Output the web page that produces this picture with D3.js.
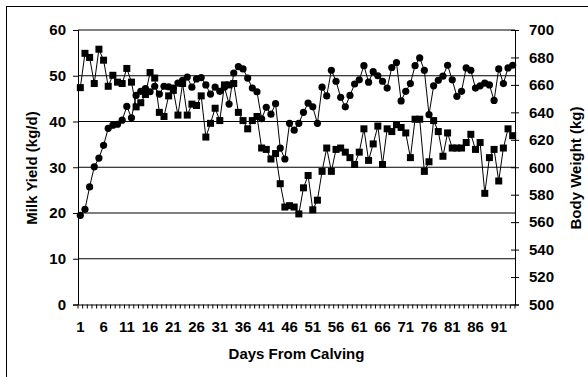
<!DOCTYPE html>
<html>
<head>
<meta charset="utf-8">
<script src="https://cdn.jsdelivr.net/npm/d3@7"></script>
<style>
  body { margin: 0; background: #fff; }
  text { font-family: "Liberation Sans", Arial, sans-serif; font-weight: bold; fill: #000; }
</style>
</head>
<body>
<div id="chart"></div>
<script>
// days from calving
const days = d3.range(1, 95);

// milk yield, kg/d (circles, left axis)
const milkYield = [19.5, 20.8, 25.7, 30.1, 32.0, 34.8, 38.5, 39.2, 39.4, 40.3,
  43.3, 40.8, 45.7, 46.6, 47.2, 46.5, 47.7, 46.0, 47.7, 47.6,
  47.3, 48.4, 49.0, 49.7, 47.5, 49.3, 49.6, 48.0, 46.0, 47.5,
  46.6, 47.5, 43.8, 50.6, 52.0, 51.5, 49.5, 47.3, 46.5, 40.6,
  43.1, 41.6, 43.9, 34.2, 31.8, 39.6, 38.1, 39.6, 42.0, 44.0,
  43.2, 39.6, 47.5, 45.6, 51.2, 48.8, 45.3, 43.2, 45.7, 48.2,
  49.1, 52.2, 48.6, 50.9, 50.0, 48.8, 47.3, 51.8, 52.9, 44.5,
  46.6, 48.3, 52.2, 53.9, 51.2, 41.5, 47.8, 49.0, 49.9, 52.3,
  49.1, 45.5, 46.6, 51.7, 51.2, 47.3, 47.8, 48.4, 48.0, 44.6,
  51.5, 48.3, 51.7, 52.3];

// body weight, kg (squares, right axis)
const bodyWeight = [658, 683, 680, 661, 686, 678, 659, 667, 662, 661,
  672, 662, 644, 647, 653, 669, 665, 640, 637, 652,
  656, 638, 661, 638, 646, 645, 652, 622, 632, 643,
  634, 660, 660, 661, 640, 634, 628, 634, 637, 614,
  613, 606, 610, 588, 571, 572, 571, 566, 585, 594,
  569, 576, 597, 614, 597, 613, 614, 611, 607, 602,
  611, 628, 605, 617, 630, 602, 628, 626, 631, 629,
  625, 607, 635, 635, 597, 604, 634, 626, 608, 625,
  614, 614, 614, 618, 624, 613, 618, 581, 607, 613,
  590, 614, 628, 623];

const leftTicks = [0, 10, 20, 30, 40, 50, 60];
const rightTicks = [500, 520, 540, 560, 580, 600, 620, 640, 660, 680, 700];
const dayLabels = d3.range(1, 92, 5);

function chart(container) {
  const width = 588;
  const height = 377;
  const margin = { top: 30, bottom: 72.5, left: 78, right: 73 };
  const innerWidth = width - margin.left - margin.right;
  const innerHeight = height - margin.top - margin.bottom;
  const fontSize = 15;

  const svg = container.append("svg")
    .attr("width", width)
    .attr("height", height);

  // outer frame (runs off the right and bottom edge)
  svg.append("rect")
    .attr("x", 6.5).attr("y", 6.5)
    .attr("width", 700).attr("height", 500)
    .attr("fill", "none").attr("stroke", "#000");

  const x = d3.scaleBand().domain(days).range([0, innerWidth]);
  const yL = d3.scaleLinear().domain([0, 60]).range([innerHeight, 0]);
  const yR = d3.scaleLinear().domain([500, 700]).range([innerHeight, 0]);
  const cx = (d) => x(d) + x.bandwidth() / 2;

  const g = svg.append("g")
    .attr("transform", `translate(${margin.left},${margin.top})`);

  // gridlines
  g.append("g")
    .selectAll("line")
    .data(leftTicks.slice(1))
    .join("line")
    .attr("x1", 0).attr("x2", innerWidth)
    .attr("y1", (d) => yL(d)).attr("y2", (d) => yL(d))
    .attr("stroke", "#000").attr("stroke-width", 1);

  // left axis
  g.append("g")
    .call(d3.axisLeft(yL).tickValues(leftTicks).tickSize(5).tickPadding(7))
    .call((a) => {
      a.select(".domain").attr("stroke", "#000");
      a.selectAll("text").attr("font-size", fontSize);
    });

  // right axis, ticks cross the line
  g.append("g")
    .attr("transform", `translate(${innerWidth},0)`)
    .call(d3.axisRight(yR).tickValues(rightTicks).tickSize(4).tickPadding(10))
    .call((a) => {
      a.select(".domain").attr("stroke", "#000");
      a.selectAll(".tick line").attr("x1", -4);
      a.selectAll("text").attr("font-size", fontSize);
    });

  // bottom axis: tick at every day boundary, label every 5 days
  g.append("g")
    .attr("transform", `translate(0,${innerHeight})`)
    .call(d3.axisBottom(x).tickValues(dayLabels).tickSize(0).tickPadding(17))
    .call((a) => {
      a.select(".domain").attr("stroke", "#000");
      a.selectAll("text").attr("font-size", fontSize);
    })
    .call((a) => {
      a.selectAll(".minor")
        .data(days.map((d) => x(d)).concat([innerWidth]))
        .join("line")
        .attr("class", "minor")
        .attr("x1", (d) => d).attr("x2", (d) => d)
        .attr("y1", 0).attr("y2", 4)
        .attr("stroke", "#000");
    });

  // body weight series
  const wLine = d3.line().x((d, i) => cx(days[i])).y((d) => yR(d));
  g.append("path")
    .datum(bodyWeight)
    .attr("d", wLine)
    .attr("fill", "none").attr("stroke", "#000").attr("stroke-width", 1);
  g.append("g")
    .selectAll("rect")
    .data(bodyWeight)
    .join("rect")
    .attr("x", (d, i) => cx(days[i]) - 3.5)
    .attr("y", (d) => yR(d) - 3.5)
    .attr("width", 7).attr("height", 7)
    .attr("fill", "#000");

  // milk yield series
  const mLine = d3.line().x((d, i) => cx(days[i])).y((d) => yL(d));
  g.append("path")
    .datum(milkYield)
    .attr("d", mLine)
    .attr("fill", "none").attr("stroke", "#000").attr("stroke-width", 1);
  g.append("g")
    .selectAll("circle")
    .data(milkYield)
    .join("circle")
    .attr("cx", (d, i) => cx(days[i]))
    .attr("cy", (d) => yL(d))
    .attr("r", 3.6)
    .attr("fill", "#000");

  // axis titles
  svg.append("text")
    .attr("transform", `translate(37,168) rotate(-90)`)
    .attr("text-anchor", "middle")
    .attr("font-size", fontSize)
    .text("Milk Yield (kg/d)");

  svg.append("text")
    .attr("transform", `translate(581,168) rotate(-90)`)
    .attr("text-anchor", "middle")
    .attr("font-size", fontSize)
    .text("Body Weight (kg)");

  svg.append("text")
    .attr("x", margin.left + innerWidth / 2)
    .attr("y", 359)
    .attr("text-anchor", "middle")
    .attr("font-size", fontSize)
    .text("Days From Calving");
}

chart(d3.select("#chart"));
</script>
</body>
</html>
